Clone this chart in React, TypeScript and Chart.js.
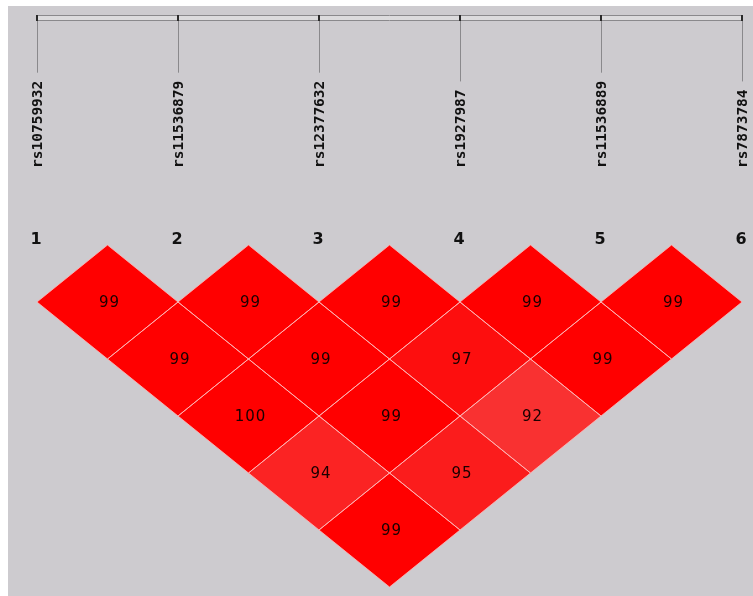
import React, { useEffect, useRef } from "react";
import { Chart, registerables } from "chart.js";

Chart.register(...registerables);

// ---- data ----
const snpNames = ["rs10759932", "rs11536879", "rs12377632", "rs1927987", "rs11536889", "rs7873784"];
const snpNumbers = ["1", "2", "3", "4", "5", "6"];
// LD values by pair distance (j - i), starting from SNP 1
const ldDist1 = [99, 99, 99, 99, 99];
const ldDist2 = [99, 99, 97, 99];
const ldDist3 = [100, 99, 92];
const ldDist4 = [94, 95];
const ldDist5 = [99];
const ldByDistance = [ldDist1, ldDist2, ldDist3, ldDist4, ldDist5];

type Cell = { x: number; y: number; v: number };

function buildCells(): Cell[] {
  const cells: Cell[] = [];
  ldByDistance.forEach((row, d0) => {
    const d = d0 + 1;
    row.forEach((v, k) => {
      const i = k + 1;
      const j = i + d;
      cells.push({ x: (i + j) / 2, y: d / 2, v });
    });
  });
  return cells;
}

function cellColor(v: number): string {
  const k = Math.max(0, Math.round((99 - v) * 7));
  return `rgb(${255 - Math.round(k / 8)},${k},${k})`;
}

const GRAY = "#cdcbcf";

const ldPlugin = {
  id: "ldPlugin",
  beforeDraw(chart: any) {
    const ctx = chart.ctx as CanvasRenderingContext2D;
    ctx.save();
    ctx.fillStyle = "#ffffff";
    ctx.fillRect(0, 0, chart.width, chart.height);
    ctx.fillStyle = GRAY;
    ctx.fillRect(8, 6, chart.width - 8, chart.height - 6);
    ctx.restore();
  },
  afterDatasetsDraw(chart: any) {
    const ctx = chart.ctx as CanvasRenderingContext2D;
    const xs = chart.scales.x;
    const ys = chart.scales.y;
    const meta = chart.getDatasetMeta(0);
    const ds = chart.data.datasets[0].data as Cell[];
    const hw = Math.abs(xs.getPixelForValue(0.5) - xs.getPixelForValue(0));
    const hh = Math.abs(ys.getPixelForValue(0.5) - ys.getPixelForValue(0));
    ctx.save();
    const path = (cx: number, cy: number) => {
      ctx.beginPath();
      ctx.moveTo(cx, cy - hh);
      ctx.lineTo(cx + hw, cy);
      ctx.lineTo(cx, cy + hh);
      ctx.lineTo(cx - hw, cy);
      ctx.closePath();
    };
    // diamonds
    meta.data.forEach((pt: any, idx: number) => {
      path(pt.x, pt.y);
      ctx.fillStyle = cellColor(ds[idx].v);
      ctx.fill();
    });
    // inner borders
    meta.data.forEach((pt: any) => {
      path(pt.x, pt.y);
      ctx.strokeStyle = "rgba(255,185,185,0.8)";
      ctx.lineWidth = 1;
      ctx.stroke();
    });
    // values
    ctx.fillStyle = "#1a0000";
    ctx.font = "15px 'DejaVu Sans'";
    (ctx as any).letterSpacing = "1px";
    ctx.textAlign = "center";
    ctx.textBaseline = "middle";
    meta.data.forEach((pt: any, idx: number) => {
      ctx.fillText(String(ds[idx].v), pt.x + 2, pt.y + 1);
    });
    (ctx as any).letterSpacing = "0px";

    // top axis
    const x0 = xs.getPixelForValue(1);
    const x1 = xs.getPixelForValue(snpNames.length);
    ctx.fillStyle = "#dcdbdd";
    ctx.fillRect(x0, 15, x1 - x0, 6);
    ctx.strokeStyle = "#8a898c";
    ctx.lineWidth = 1;
    ctx.beginPath();
    ctx.moveTo(x0, 15.5);
    ctx.lineTo(x1, 15.5);
    ctx.moveTo(x0, 20.5);
    ctx.lineTo(x1, 20.5);
    ctx.stroke();

    ctx.font = "bold 14.5px 'DejaVu Sans Mono'";
    snpNames.forEach((name, k) => {
      const px = Math.round(xs.getPixelForValue(k + 1));
      const w = ctx.measureText(name).width;
      const labelBottom = 168;
      const labelTop = labelBottom - w;
      // tick
      ctx.strokeStyle = "#2a2a2a";
      ctx.lineWidth = 2;
      ctx.beginPath();
      ctx.moveTo(px, 15);
      ctx.lineTo(px, 21);
      ctx.stroke();
      // drop line
      ctx.strokeStyle = "#8a898c";
      ctx.lineWidth = 1;
      ctx.beginPath();
      ctx.moveTo(px + 0.5, 21);
      ctx.lineTo(px + 0.5, labelTop - 8);
      ctx.stroke();
      // label
      ctx.save();
      ctx.translate(px + 1.5, labelBottom);
      ctx.rotate(-Math.PI / 2);
      ctx.fillStyle = "#111111";
      ctx.textAlign = "left";
      ctx.textBaseline = "middle";
      ctx.fillText(name, 0, 0);
      ctx.restore();
    });

    // numbers
    ctx.font = "bold 16px 'DejaVu Sans'";
    ctx.fillStyle = "#111111";
    ctx.textAlign = "center";
    ctx.textBaseline = "middle";
    snpNumbers.forEach((n, k) => {
      const px = xs.getPixelForValue(k + 1);
      ctx.fillText(n, px - 1, 240);
    });
    ctx.restore();
  },
};

export default function App() {
  const ref = useRef<HTMLCanvasElement | null>(null);
  useEffect(() => {
    if (!ref.current) return;
    const cells = buildCells();
    const chart = new Chart(ref.current, {
      type: "scatter",
      data: {
        datasets: [
          {
            label: "LD",
            data: cells as any,
            pointRadius: 0,
            pointHoverRadius: 0,
          },
        ],
      },
      options: {
        animation: false,
        responsive: false,
        events: [],
        layout: { padding: { left: 37, right: 11, top: 245, bottom: 9 } },
        plugins: { legend: { display: false }, tooltip: { enabled: false } },
        scales: {
          x: { type: "linear", min: 1, max: snpNames.length, display: false },
          y: { type: "linear", min: 0, max: 3, reverse: true, display: false },
        },
      },
      plugins: [ldPlugin],
    });
    return () => chart.destroy();
  }, []);
  return (
    <canvas
      ref={ref}
      width={753}
      height={596}
      style={{ position: "absolute", left: 0, top: 0, width: 753, height: 596 }}
    />
  );
}
